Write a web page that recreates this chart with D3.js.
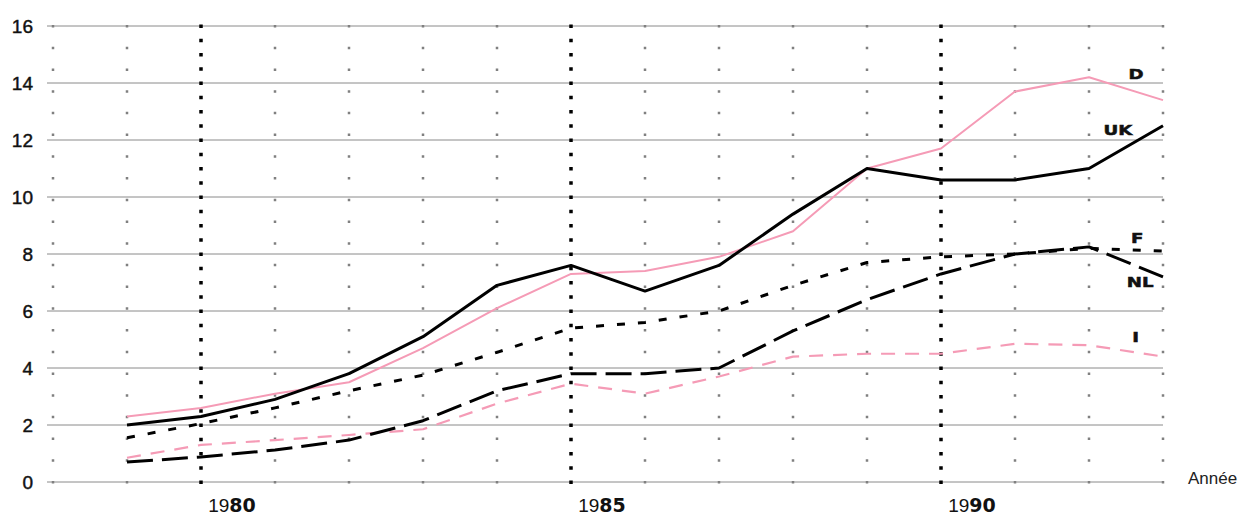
<!DOCTYPE html>
<html><head><meta charset="utf-8">
<script src="https://cdn.jsdelivr.net/npm/d3@7"></script>
<style>
html,body{margin:0;padding:0;background:#fff;}
svg{display:block;font-family:"Liberation Sans",Arial,sans-serif;}
</style></head>
<body><svg id="chart" width="1246" height="516"></svg>
<script>
const years = [1979,1980,1981,1982,1983,1984,1985,1986,1987,1988,1989,1990,1991,1992,1993];
const D  = [2.3,2.6,3.1,3.5,4.7,6.1,7.3,7.4,7.9,8.8,11.0,11.7,13.7,14.2,13.4];
const UK = [2.0,2.3,2.9,3.8,5.1,6.9,7.6,6.7,7.6,9.4,11.0,10.6,10.6,11.0,12.5];
const F  = [1.55,2.05,2.6,3.2,3.75,4.55,5.4,5.6,6.0,6.9,7.7,7.9,8.0,8.2,8.1];
const NL = [0.7,0.88,1.12,1.47,2.15,3.2,3.8,3.8,4.0,5.3,6.4,7.3,8.0,8.25,7.2];
const I  = [0.85,1.3,1.47,1.65,1.85,2.75,3.45,3.1,3.7,4.4,4.5,4.5,4.85,4.8,4.4];
const yTicks = [0,2,4,6,8,10,12,14,16];
const gridYears = [1978,1979,1980,1981,1982,1983,1984,1985,1986,1987,1988,1989,1990,1991,1992,1993];
const majorYears = [1980,1985,1990];
const xLabels = [{y:1980,a:"19",b:"80"},{y:1985,a:"19",b:"85"},{y:1990,a:"19",b:"90"}];
const seriesLabels = [
  {name:"D", year:1992.635, v:14.32},
  {name:"UK", year:1992.39, v:12.35},
  {name:"F", year:1992.65, v:8.56},
  {name:"NL", year:1992.69, v:7.02},
  {name:"I", year:1992.63, v:5.09}
];

const svg = d3.select("#chart");
const x = d3.scaleLinear().domain([1978,1993]).range([53,1163]);
const y = d3.scaleLinear().domain([0,16]).range([482,26]);

// horizontal gridlines
svg.append("g").selectAll("line").data(yTicks).join("line")
  .attr("x1",47).attr("x2",x(1993)).attr("y1",d=>y(d)).attr("y2",d=>y(d))
  .attr("stroke","#8a8a8a").attr("stroke-width",1);

// vertical dotted lines (gray)
const H = y(0)-y(16);
svg.append("g").selectAll("line").data(gridYears.filter(d=>!majorYears.includes(d))).join("line")
  .attr("x1",d=>x(d)).attr("x2",d=>x(d)).attr("y1",y(16)-1).attr("y2",y(0)+2)
  .attr("stroke","#808080").attr("stroke-width",2.5)
  .attr("stroke-dasharray",`2.5,${H/21-2.5}`);
// major years (black)
svg.append("g").selectAll("line").data(majorYears).join("line")
  .attr("x1",d=>x(d)).attr("x2",d=>x(d)).attr("y1",y(16)-1.5).attr("y2",y(0)+3)
  .attr("stroke","#000").attr("stroke-width",3.5)
  .attr("stroke-dasharray",`3.5,${H/32-3.5}`);

// y labels
svg.append("g").selectAll("text").data(yTicks).join("text")
  .attr("x",33).attr("y",d=>y(d)).attr("dy","0.36em").attr("text-anchor","end")
  .attr("font-size",19).attr("fill","#111").attr("stroke","#111").attr("stroke-width",0.45)
  .text(d=>d);

// x labels
const xl = svg.append("g").selectAll("text").data(xLabels).join("text")
  .attr("x",d=>x(d.y)+31).attr("y",512).attr("text-anchor","middle")
  .attr("font-size",19).attr("fill","#111");
xl.append("tspan").text(d=>d.a);
xl.append("tspan").attr("font-family","'DejaVu Sans',sans-serif").attr("font-weight","bold").text(d=>d.b);

svg.append("text").attr("x",1188).attr("y",484).attr("font-size",17).attr("fill","#222").text("Année");

const line = d3.line().x((d,i)=>x(years[i])).y(d=>y(d));
const series = [
  {data:D, color:"#f59bb6", w:2, dash:null},
  {data:I, color:"#f59bb6", w:2.2, dash:"14,10"},
  {data:NL, color:"#000", w:3, dash:"26,9"},
  {data:F, color:"#000", w:3, dash:"8,13"},
  {data:UK, color:"#000", w:3, dash:null}
];
svg.append("g").selectAll("path").data(series).join("path")
  .attr("d",d=>line(d.data)).attr("fill","none")
  .attr("stroke",d=>d.color).attr("stroke-width",d=>d.w)
  .attr("stroke-dasharray",d=>d.dash).attr("stroke-linejoin","round");

svg.append("g").selectAll("text").data(seriesLabels).join("text")
  .attr("transform",d=>`translate(${x(d.year)},${y(d.v)}) scale(1.3,1)`)
  .attr("dy","0.36em").attr("text-anchor","middle")
  .attr("font-family","'DejaVu Sans',sans-serif")
  .attr("font-size",14).attr("font-weight","bold").attr("fill","#111")
  .attr("stroke","#111").attr("stroke-width",0.5)
  .text(d=>d.name);
</script></body></html>
